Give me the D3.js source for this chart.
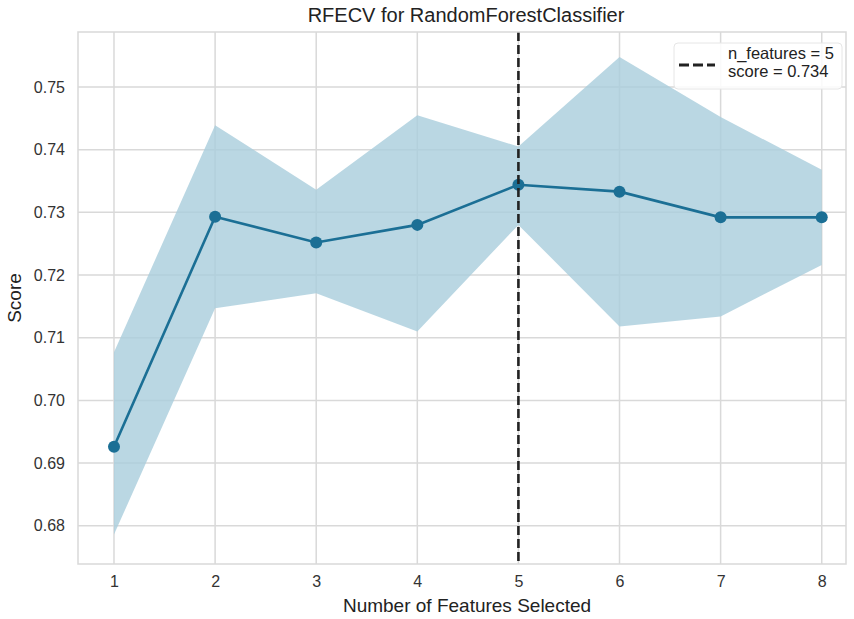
<!DOCTYPE html>
<html>
<head>
<meta charset="utf-8">
<script src="https://cdn.jsdelivr.net/npm/d3@7"></script>
<style>
  body { margin: 0; background: #fff; }
  svg { display: block; font-family: "Liberation Sans", Arial, sans-serif; }
</style>
</head>
<body>
<svg id="chart" width="854" height="619"></svg>
<script>
const nFeatures = [1, 2, 3, 4, 5, 6, 7, 8];
const meanScore = [0.6926, 0.7293, 0.7252, 0.7280, 0.7344, 0.7333, 0.7292, 0.7292];
const upperScore = [0.7077, 0.7439, 0.7336, 0.7455, 0.7405, 0.7548, 0.7452, 0.7368];
const lowerScore = [0.6786, 0.7147, 0.7171, 0.7110, 0.7280, 0.7118, 0.7134, 0.7216];
const yTicks = [0.68, 0.69, 0.70, 0.71, 0.72, 0.73, 0.74, 0.75];
const xTicks = [1, 2, 3, 4, 5, 6, 7, 8];
const bestN = 5;
const bestScore = 0.734;

(function () {
const svg = d3.select("#chart");
const pL = 78, pR = 846, pT = 32, pB = 564;

const x = d3.scaleLinear().domain([0.644, 8.24]).range([pL, pR]);
const y = d3.scaleLinear().domain([0.6739, 0.75877]).range([pB, pT]);

// grid
const grid = svg.append("g");
grid.selectAll(".gx").data(xTicks).enter().append("line")
  .attr("x1", d => x(d)).attr("x2", d => x(d))
  .attr("y1", pT).attr("y2", pB)
  .attr("stroke", "#d9d9d9").attr("stroke-width", 1.5);
grid.selectAll(".gy").data(yTicks).enter().append("line")
  .attr("x1", pL).attr("x2", pR)
  .attr("y1", d => y(d)).attr("y2", d => y(d))
  .attr("stroke", "#d9d9d9").attr("stroke-width", 1.5);

// band
const pts = nFeatures.map((n, i) => ({n, m: meanScore[i], u: upperScore[i], l: lowerScore[i]}));
svg.append("path").datum(pts)
  .attr("d", d3.area().x(d => x(d.n)).y0(d => y(d.l)).y1(d => y(d.u)))
  .attr("fill", "#a9cddc").attr("fill-opacity", 0.8);

// line
svg.append("path").datum(pts)
  .attr("d", d3.line().x(d => x(d.n)).y(d => y(d.m)))
  .attr("fill", "none").attr("stroke", "#1b6f95").attr("stroke-width", 2.6);
svg.selectAll(".pt").data(pts).enter().append("circle")
  .attr("cx", d => x(d.n)).attr("cy", d => y(d.m)).attr("r", 6)
  .attr("fill", "#1b6f95");

// best line
svg.append("line")
  .attr("x1", x(bestN)).attr("x2", x(bestN))
  .attr("y1", pT).attr("y2", pB)
  .attr("stroke", "#222").attr("stroke-width", 2.6)
  .attr("stroke-dasharray", "9,4");

// frame
svg.append("rect").attr("x", pL).attr("y", pT)
  .attr("width", pR - pL).attr("height", pB - pT)
  .attr("fill", "none").attr("stroke", "#d9d9d9").attr("stroke-width", 1.5);

// axes
const xAxis = d3.axisBottom(x).tickValues(xTicks).tickSize(0).tickPadding(12).tickFormat(d3.format("d"));
const gx = svg.append("g").attr("transform", `translate(0,${pB})`).call(xAxis);
gx.select(".domain").remove();
gx.selectAll("text").attr("font-size", 16).attr("fill", "#333").attr("font-family", "Liberation Sans, Arial, sans-serif");

const yAxis = d3.axisLeft(y).tickValues(yTicks).tickSize(0).tickPadding(13).tickFormat(d3.format(".2f"));
const gy = svg.append("g").attr("transform", `translate(${pL},0)`).call(yAxis);
gy.select(".domain").remove();
gy.selectAll("text").attr("font-size", 16).attr("fill", "#333").attr("font-family", "Liberation Sans, Arial, sans-serif");

// titles
svg.append("text").attr("x", 466).attr("y", 22)
  .attr("text-anchor", "middle").attr("font-size", 20).attr("fill", "#222")
  .text("RFECV for RandomForestClassifier");
svg.append("text").attr("x", 467).attr("y", 612)
  .attr("text-anchor", "middle").attr("font-size", 19).attr("fill", "#222")
  .text("Number of Features Selected");
svg.append("text").attr("transform", `translate(21,${(pT + pB) / 2}) rotate(-90)`)
  .attr("text-anchor", "middle").attr("font-size", 19).attr("fill", "#222")
  .text("Score");

// legend
const lg = svg.append("g");
lg.append("rect").attr("x", 674).attr("y", 43).attr("width", 168).attr("height", 46)
  .attr("rx", 4).attr("fill", "#fff").attr("fill-opacity", 0.85).attr("stroke", "#e6e6e6");
lg.append("line").attr("x1", 679).attr("x2", 715).attr("y1", 65).attr("y2", 65)
  .attr("stroke", "#222").attr("stroke-width", 2.8).attr("stroke-dasharray", "10,4");
lg.append("text").attr("x", 728).attr("y", 59).attr("font-size", 16.5).attr("fill", "#222")
  .text(`n_features = ${bestN}`);
lg.append("text").attr("x", 728).attr("y", 77).attr("font-size", 16.5).attr("fill", "#222")
  .text(`score = ${bestScore.toFixed(3)}`);
})();
</script>
</body>
</html>
